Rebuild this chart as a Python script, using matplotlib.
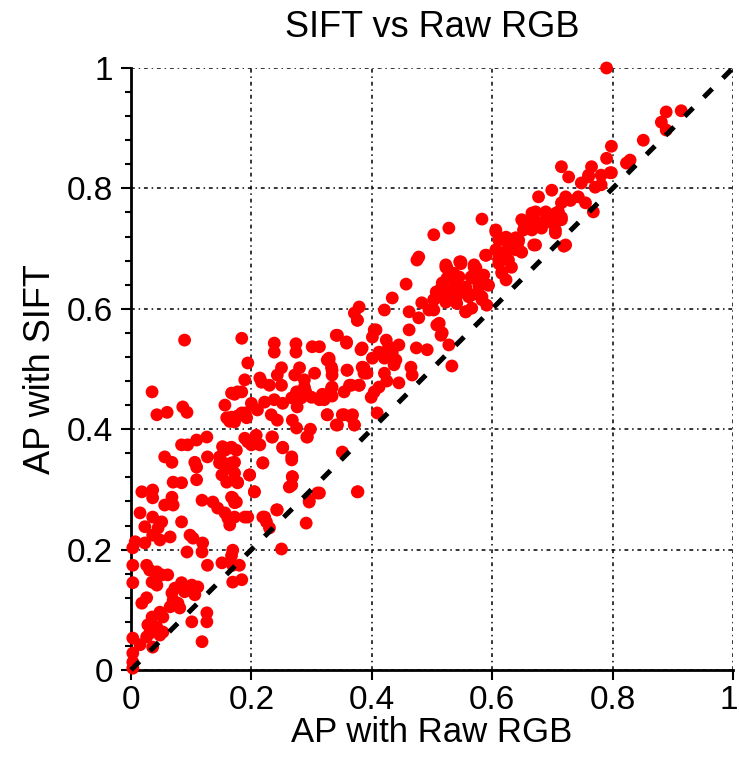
import matplotlib
matplotlib.use("Agg")
import matplotlib.pyplot as plt
from matplotlib.ticker import MultipleLocator
from matplotlib.transforms import ScaledTranslation
import numpy as np

plt.rcParams['font.family'] = ['Liberation Sans', 'DejaVu Sans']

# ---- data (AP with Raw RGB, AP with SIFT) ----
top_right_x = [0.79, 0.889, 0.914, 0.881, 0.889, 0.851, 0.798, 0.79, 0.829, 0.798, 0.715, 0.727, 0.765, 0.76, 0.748,
               0.781, 0.699, 0.677, 0.722, 0.743, 0.715, 0.73, 0.768, 0.649, 0.666, 0.689, 0.706, 0.677, 0.699, 0.715,
               0.666, 0.705, 0.644, 0.669, 0.722, 0.649]
top_right_y = [1.0, 0.927, 0.929, 0.91, 0.897, 0.88, 0.87, 0.85, 0.847, 0.826, 0.836, 0.819, 0.836, 0.822, 0.809,
               0.806, 0.797, 0.786, 0.786, 0.786, 0.776, 0.78, 0.761, 0.748, 0.759, 0.761, 0.759, 0.743, 0.743, 0.752,
               0.731, 0.726, 0.714, 0.706, 0.706, 0.694]

upper_mid_x = [0.823, 0.76, 0.781, 0.796, 0.771, 0.755, 0.672, 0.71, 0.715, 0.666, 0.689, 0.583, 0.528, 0.503, 0.606,
               0.682, 0.705, 0.652, 0.623, 0.639, 0.611, 0.672, 0.627, 0.644, 0.719, 0.606, 0.589, 0.623, 0.611, 0.627,
               0.548, 0.525, 0.573, 0.616, 0.536, 0.565, 0.583, 0.517, 0.54, 0.556, 0.578, 0.507, 0.528, 0.55, 0.566,
               0.583, 0.503, 0.523, 0.541, 0.591, 0.495, 0.556, 0.566, 0.512, 0.517]
upper_mid_y = [0.842, 0.819, 0.822, 0.826, 0.802, 0.776, 0.761, 0.761, 0.748, 0.748, 0.748, 0.749, 0.734, 0.723, 0.731,
               0.734, 0.731, 0.731, 0.719, 0.718, 0.714, 0.706, 0.703, 0.698, 0.704, 0.698, 0.689, 0.693, 0.684, 0.681,
               0.678, 0.668, 0.668, 0.661, 0.659, 0.653, 0.653, 0.643, 0.643, 0.636, 0.64, 0.628, 0.626, 0.628, 0.623,
               0.62, 0.615, 0.611, 0.609, 0.606, 0.598, 0.595, 0.601, 0.576, 0.56]

ridge_x = [0.652, 0.478, 0.523, 0.546, 0.57, 0.59, 0.606, 0.627, 0.643, 0.616, 0.639, 0.611]
ridge_y = [0.744, 0.686, 0.673, 0.678, 0.673, 0.689, 0.728, 0.714, 0.71, 0.693, 0.698, 0.681]

centre_x = [0.475, 0.523, 0.548, 0.57, 0.611, 0.632, 0.525, 0.545, 0.566, 0.586, 0.457, 0.516, 0.536, 0.556, 0.578,
            0.594, 0.616, 0.623, 0.516, 0.54, 0.561, 0.583, 0.503, 0.434, 0.483, 0.379, 0.371, 0.421, 0.462, 0.503,
            0.556, 0.376, 0.478, 0.508, 0.407, 0.462, 0.515, 0.341, 0.358, 0.401, 0.424, 0.445, 0.428, 0.474, 0.492,
            0.528, 0.384, 0.412, 0.434, 0.401, 0.421, 0.44, 0.329, 0.313, 0.437, 0.533, 0.465, 0.333, 0.384, 0.359,
            0.334, 0.387, 0.421, 0.467, 0.445, 0.425, 0.412, 0.379, 0.363, 0.334, 0.321, 0.354, 0.404, 0.399, 0.313,
            0.326, 0.354, 0.368, 0.409, 0.341, 0.371, 0.351]
centre_y = [0.681, 0.669, 0.675, 0.669, 0.675, 0.669, 0.651, 0.653, 0.651, 0.656, 0.641, 0.636, 0.635, 0.631, 0.636,
            0.639, 0.659, 0.648, 0.62, 0.618, 0.62, 0.615, 0.615, 0.618, 0.61, 0.603, 0.593, 0.598, 0.595, 0.598,
            0.595, 0.581, 0.585, 0.573, 0.565, 0.565, 0.556, 0.556, 0.545, 0.553, 0.548, 0.54, 0.537, 0.535, 0.532,
            0.54, 0.535, 0.528, 0.527, 0.518, 0.518, 0.515, 0.518, 0.537, 0.507, 0.505, 0.503, 0.503, 0.503, 0.498,
            0.49, 0.493, 0.493, 0.49, 0.477, 0.48, 0.47, 0.473, 0.473, 0.47, 0.453, 0.462, 0.462, 0.453, 0.449,
            0.424, 0.424, 0.424, 0.427, 0.407, 0.407, 0.362]

left_mid_x = [0.184, 0.238, 0.238, 0.301, 0.343, 0.358, 0.376, 0.404, 0.382, 0.194, 0.25, 0.243, 0.189, 0.329, 0.334,
              0.305, 0.359, 0.387, 0.392, 0.288, 0.217, 0.23, 0.25, 0.177, 0.167, 0.275, 0.288, 0.267, 0.283, 0.3,
              0.333, 0.366, 0.379, 0.238, 0.252, 0.222, 0.2, 0.156, 0.321, 0.276, 0.21, 0.184, 0.167, 0.161, 0.192,
              0.233, 0.243, 0.326, 0.351, 0.366, 0.343, 0.371, 0.268, 0.275, 0.293, 0.235, 0.189, 0.2, 0.167, 0.156,
              0.252, 0.267, 0.219, 0.172, 0.161, 0.197, 0.268, 0.177, 0.263, 0.205, 0.167, 0.175, 0.31, 0.296, 0.376,
              0.242, 0.222, 0.189, 0.156]
left_mid_y = [0.551, 0.543, 0.528, 0.537, 0.556, 0.543, 0.581, 0.565, 0.532, 0.51, 0.502, 0.49, 0.482, 0.515, 0.498,
              0.493, 0.498, 0.502, 0.493, 0.482, 0.478, 0.473, 0.473, 0.462, 0.46, 0.462, 0.47, 0.452, 0.452, 0.453,
              0.468, 0.473, 0.473, 0.449, 0.443, 0.445, 0.443, 0.44, 0.449, 0.437, 0.432, 0.427, 0.42, 0.418, 0.419,
              0.424, 0.415, 0.424, 0.424, 0.42, 0.407, 0.407, 0.415, 0.402, 0.387, 0.387, 0.385, 0.374, 0.37, 0.365,
              0.37, 0.354, 0.344, 0.345, 0.336, 0.324, 0.321, 0.311, 0.304, 0.296, 0.287, 0.279, 0.294, 0.279, 0.296,
              0.266, 0.254, 0.254, 0.261]

left_x = [0.089, 0.274, 0.274, 0.28, 0.272, 0.326, 0.214, 0.035, 0.172, 0.184, 0.29, 0.318, 0.334, 0.086, 0.093,
          0.06, 0.043, 0.159, 0.177, 0.19, 0.298, 0.172, 0.164, 0.208, 0.234, 0.292, 0.084, 0.094, 0.109, 0.126,
          0.152, 0.164, 0.175, 0.194, 0.202, 0.214, 0.252, 0.056, 0.068, 0.106, 0.127, 0.147, 0.152, 0.167, 0.219]
left_y = [0.548, 0.542, 0.528, 0.502, 0.49, 0.515, 0.485, 0.462, 0.458, 0.462, 0.463, 0.458, 0.455, 0.437, 0.428,
          0.428, 0.424, 0.419, 0.422, 0.427, 0.4, 0.412, 0.413, 0.39, 0.387, 0.387, 0.374, 0.374, 0.382, 0.387,
          0.371, 0.369, 0.365, 0.379, 0.377, 0.374, 0.369, 0.354, 0.345, 0.345, 0.354, 0.354, 0.345, 0.344, 0.344]

low_x = [0.109, 0.147, 0.164, 0.267, 0.151, 0.172, 0.197, 0.268, 0.07, 0.084, 0.109, 0.159, 0.177, 0.267, 0.018,
         0.036, 0.036, 0.068, 0.205, 0.313, 0.296, 0.118, 0.136, 0.169, 0.172, 0.056, 0.07, 0.144, 0.243, 0.015,
         0.036, 0.161, 0.172, 0.194, 0.219, 0.225, 0.084, 0.051, 0.023, 0.164, 0.291, 0.045, 0.23, 0.036, 0.065,
         0.098, 0.103, 0.119, 0.048, 0.007, 0.023, 0.003, 0.093, 0.118, 0.169, 0.167, 0.25, 0.003, 0.026, 0.031,
         0.043, 0.127, 0.151, 0.169, 0.18, 0.051, 0.061, 0.003, 0.035, 0.043, 0.084, 0.101, 0.111, 0.169, 0.184,
         0.073, 0.068, 0.089, 0.106, 0.026, 0.07, 0.078, 0.018, 0.081, 0.065, 0.048, 0.126, 0.035, 0.053, 0.101,
         0.126, 0.028, 0.043, 0.053, 0.031, 0.026, 0.048, 0.118, 0.003, 0.015, 0.003, 0.003, 0.003, 0.036, 0.377]
low_y = [0.337, 0.344, 0.341, 0.349, 0.324, 0.327, 0.324, 0.321, 0.312, 0.311, 0.316, 0.312, 0.312, 0.307, 0.296,
         0.299, 0.286, 0.287, 0.296, 0.294, 0.282, 0.282, 0.279, 0.286, 0.278, 0.274, 0.274, 0.269, 0.266, 0.261,
         0.254, 0.252, 0.254, 0.254, 0.254, 0.246, 0.246, 0.246, 0.238, 0.241, 0.244, 0.236, 0.236, 0.224, 0.221,
         0.224, 0.219, 0.211, 0.216, 0.213, 0.211, 0.203, 0.196, 0.196, 0.199, 0.19, 0.201, 0.174, 0.174, 0.166,
         0.163, 0.174, 0.178, 0.174, 0.174, 0.158, 0.158, 0.145, 0.146, 0.141, 0.145, 0.141, 0.138, 0.146, 0.15,
         0.136, 0.128, 0.13, 0.125, 0.12, 0.116, 0.111, 0.111, 0.103, 0.105, 0.096, 0.095, 0.088, 0.088, 0.08,
         0.08, 0.075, 0.071, 0.063, 0.061, 0.055, 0.058, 0.047, 0.053, 0.042, 0.028, 0.013, 0.003, 0.038, 0.296]

tick_values = [0, 0.2, 0.4, 0.6, 0.8, 1]
tick_labels = ['0', '0.2', '0.4', '0.6', '0.8', '1']

raw_rgb = np.concatenate([top_right_x, upper_mid_x, ridge_x, centre_x, left_mid_x, left_x, low_x])
sift = np.concatenate([top_right_y, upper_mid_y, ridge_y, centre_y, left_mid_y, left_y, low_y])

# ---- figure ----
fig = plt.figure(figsize=(7.39, 7.61), dpi=100)
ax = fig.add_axes([131 / 739, 1 - 670 / 761, 602 / 739, 602 / 761])

ax.scatter(raw_rgb, sift, s=85, color='#ff0000', edgecolors='none', zorder=3, clip_on=False)
ax.plot([0, 1], [0, 1], color='black', linewidth=3.6, dashes=(2.4, 3.0), dash_capstyle='butt',
        zorder=4, clip_on=False)

ax.set_xlim(0, 1)
ax.set_ylim(0, 1)
ax.set_xticks(tick_values)
ax.set_xticklabels(tick_labels)
ax.set_yticks(tick_values)
ax.set_yticklabels(tick_labels)
ax.yaxis.set_minor_locator(MultipleLocator(0.04))

ax.grid(True, which='major', color='black', linewidth=1.1, linestyle=(0, (2.5, 2.5, 1, 2.5)), zorder=1)
ax.set_axisbelow(True)

for side in ['top', 'right']:
    ax.spines[side].set_visible(False)
for side in ['left', 'bottom']:
    ax.spines[side].set_linewidth(2)
    ax.spines[side].set_color('black')

ax.tick_params(axis='both', which='major', direction='out', length=7, width=1.5,
               labelsize=24, colors='black')
ax.tick_params(axis='x', pad=4)
ax.tick_params(axis='y', pad=6)
ax.tick_params(axis='y', which='minor', direction='out', length=4.5, width=1.5)

# keep the last x tick label inside the canvas
last = ax.get_xticklabels()[-1]
last.set_transform(last.get_transform() + ScaledTranslation(-4 / 100, 0, fig.dpi_scale_trans))

ax.set_title('SIFT vs Raw RGB', fontsize=26, pad=22)
ax.set_xlabel('AP with Raw RGB', fontsize=25, labelpad=0)
ax.set_ylabel('AP with SIFT', fontsize=26, labelpad=6)

fig.savefig('out.png', dpi=100)
